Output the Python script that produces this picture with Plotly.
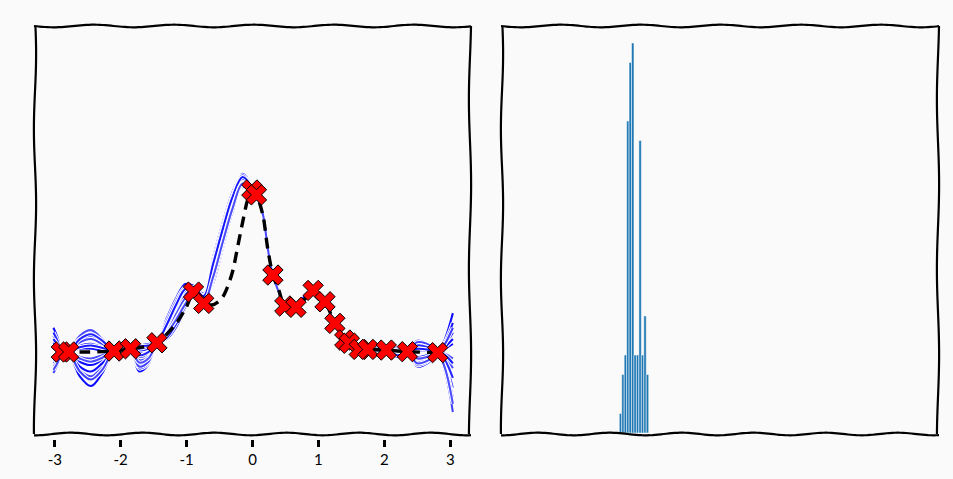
import numpy as np
import plotly.graph_objects as go

# ---------------------------------------------------------------
# Left panel: true objective (dashed), posterior samples (blue),
# observed points (red crosses)
# ---------------------------------------------------------------
S_X = [-3.02, -2.95, -2.90, -2.79, -2.62, -2.45, -2.28, -2.1, -1.97, -1.85,
       -1.72, -1.58, -1.45, -1.3, -1.15, -1.02, -0.895, -0.74, -0.6, -0.45,
       -0.3, -0.15, -0.01, 0.06, 0.16, 0.23, 0.31, 0.4, 0.49, 0.66,
       0.8, 0.92, 1.10, 1.25, 1.40, 1.47, 1.62, 1.75, 1.9, 2.03,
       2.2, 2.35, 2.5, 2.65, 2.81, 2.92, 3.04]

SAMPLE_0 = [0.15, 0.08, 0.0, 0.0, -0.06, -0.08, -0.05, 0.006, 0.0, 0.02,
            -0.03, -0.01, 0.057, 0.12, 0.22, 0.31, 0.37, 0.32, 0.48, 0.70,
            0.91, 1.05, 1.0, 0.97, 0.85, 0.65, 0.475, 0.37, 0.284, 0.276,
            0.33, 0.38, 0.31, 0.177, 0.074, 0.054, 0.016, 0.016, 0.0, 0.012,
            0.01, 0.002, -0.05, -0.04, -0.004, 0.08, 0.24]
SAMPLE_1 = [-0.02, -0.01, 0.0, 0.0, 0.10, 0.135, 0.08, 0.01, 0.03, 0.025,
            0.03, 0.045, 0.065, 0.18, 0.31, 0.40, 0.40, 0.35, 0.55, 0.77,
            0.96, 1.08, 1.02, 0.98, 0.86, 0.66, 0.48, 0.38, 0.29, 0.28,
            0.35, 0.385, 0.315, 0.18, 0.08, 0.056, 0.02, 0.018, 0.02, 0.014,
            -0.02, 0.004, 0.07, 0.05, 0.0, -0.03, -0.10]
SAMPLE_2 = [0.06, 0.03, 0.005, -0.005, -0.15, -0.21, -0.13, 0.0, -0.01, 0.015,
            -0.12, -0.08, 0.05, 0.08, 0.16, 0.27, 0.35, 0.30, 0.42, 0.64,
            0.86, 1.02, 0.99, 0.96, 0.84, 0.64, 0.47, 0.365, 0.28, 0.27,
            0.32, 0.375, 0.305, 0.17, 0.07, 0.05, 0.01, 0.012, -0.03, 0.01,
            0.03, 0.0, -0.09, -0.07, -0.008, 0.04, 0.12]
SAMPLE_3 = [-0.13, -0.07, -0.005, 0.0, 0.04, 0.05, 0.03, 0.006, 0.02, 0.02,
            0.0, 0.02, 0.057, 0.14, 0.25, 0.34, 0.37, 0.33, 0.50, 0.72,
            0.92, 1.06, 1.01, 0.97, 0.85, 0.65, 0.475, 0.37, 0.284, 0.276,
            0.34, 0.38, 0.31, 0.177, 0.074, 0.054, 0.016, 0.016, 0.01, 0.012,
            -0.01, 0.002, 0.03, 0.02, -0.004, -0.12, -0.37]
SAMPLE_4 = [0.10, 0.05, 0.0, 0.005, 0.07, 0.10, 0.06, 0.01, 0.0, 0.025,
            0.04, 0.05, 0.065, 0.21, 0.34, 0.42, 0.41, 0.36, 0.58, 0.80,
            0.99, 1.10, 1.03, 0.99, 0.87, 0.66, 0.485, 0.385, 0.29, 0.28,
            0.36, 0.385, 0.32, 0.185, 0.08, 0.058, 0.02, 0.018, 0.03, 0.014,
            0.02, 0.004, 0.05, 0.04, 0.0, 0.02, 0.05]
SAMPLE_5 = [-0.07, -0.04, 0.0, 0.0, -0.11, -0.15, -0.09, 0.0, -0.02, 0.015,
            -0.08, -0.05, 0.05, 0.10, 0.19, 0.29, 0.35, 0.31, 0.45, 0.67,
            0.88, 1.03, 0.99, 0.96, 0.84, 0.64, 0.47, 0.365, 0.28, 0.27,
            0.32, 0.375, 0.305, 0.17, 0.07, 0.05, 0.01, 0.012, -0.02, 0.01,
            0.0, 0.0, -0.06, -0.05, -0.008, -0.07, -0.22]
SAMPLE_6 = [0.02, 0.01, 0.005, 0.0, 0.02, 0.02, 0.01, 0.006, 0.01, 0.02,
            0.01, 0.02, 0.057, 0.15, 0.27, 0.36, 0.38, 0.33, 0.51, 0.73,
            0.93, 1.06, 1.01, 0.97, 0.855, 0.65, 0.475, 0.375, 0.285, 0.276,
            0.34, 0.38, 0.31, 0.177, 0.074, 0.054, 0.016, 0.016, 0.0, 0.012,
            -0.03, 0.002, 0.01, 0.01, -0.004, 0.06, 0.18]
SAMPLE_7 = [-0.05, -0.03, 0.0, 0.005, 0.06, 0.08, 0.05, 0.01, 0.03, 0.025,
            0.02, 0.035, 0.065, 0.19, 0.32, 0.40, 0.39, 0.35, 0.56, 0.78,
            0.97, 1.09, 1.02, 0.98, 0.86, 0.66, 0.48, 0.38, 0.29, 0.28,
            0.35, 0.385, 0.315, 0.18, 0.08, 0.056, 0.02, 0.018, 0.025, 0.014,
            0.015, 0.004, 0.06, 0.05, 0.0, -0.01, -0.04]
SAMPLE_8 = [0.04, 0.02, -0.005, 0.0, -0.09, -0.12, -0.07, 0.0, -0.01, 0.015,
            -0.10, -0.07, 0.05, 0.09, 0.18, 0.28, 0.36, 0.30, 0.44, 0.66,
            0.87, 1.03, 0.99, 0.96, 0.84, 0.64, 0.47, 0.365, 0.28, 0.27,
            0.33, 0.375, 0.305, 0.17, 0.07, 0.05, 0.01, 0.012, -0.01, 0.01,
            0.025, 0.0, -0.03, -0.02, -0.008, 0.03, 0.08]
SAMPLE_9 = [-0.09, -0.05, 0.0, -0.005, -0.03, -0.04, -0.02, 0.006, 0.005, 0.02,
            -0.05, -0.03, 0.057, 0.13, 0.24, 0.33, 0.37, 0.32, 0.49, 0.71,
            0.91, 1.05, 1.0, 0.97, 0.85, 0.65, 0.475, 0.37, 0.284, 0.276,
            0.33, 0.38, 0.31, 0.177, 0.074, 0.054, 0.016, 0.016, -0.025, 0.012,
            -0.015, 0.002, -0.08, -0.06, -0.004, -0.09, -0.28]
SAMPLE_10 = [0.12, 0.06, 0.0, 0.0, 0.08, 0.11, 0.07, 0.008, 0.02, 0.02,
             -0.02, 0.0, 0.057, 0.16, 0.29, 0.38, 0.39, 0.34, 0.53, 0.75,
             0.95, 1.07, 1.02, 0.975, 0.855, 0.655, 0.478, 0.375, 0.287, 0.278,
             0.345, 0.382, 0.312, 0.178, 0.076, 0.055, 0.018, 0.017, 0.015, 0.013,
             -0.02, 0.003, 0.04, 0.03, -0.002, -0.05, -0.16]
SAMPLE_11 = [-0.04, -0.02, 0.0, -0.003, -0.12, -0.17, -0.11, 0.004, -0.015, 0.018,
             -0.09, -0.06, 0.052, 0.11, 0.21, 0.30, 0.36, 0.31, 0.47, 0.69,
             0.90, 1.04, 1.0, 0.965, 0.845, 0.645, 0.472, 0.368, 0.282, 0.273,
             0.325, 0.378, 0.308, 0.174, 0.072, 0.052, 0.013, 0.014, -0.02, 0.011,
             0.02, 0.001, -0.07, -0.055, -0.006, 0.05, 0.15]
SAMPLE_12 = [0.08, 0.04, 0.003, 0.0, 0.03, 0.04, 0.025, 0.006, -0.005, 0.02,
             0.035, 0.04, 0.06, 0.17, 0.30, 0.39, 0.40, 0.345, 0.54, 0.76,
             0.96, 1.08, 1.02, 0.98, 0.86, 0.66, 0.48, 0.38, 0.29, 0.28,
             0.35, 0.385, 0.315, 0.18, 0.078, 0.056, 0.019, 0.017, 0.01, 0.013,
             0.01, 0.003, 0.02, 0.015, -0.003, -0.02, -0.07]
SAMPLE_13 = [-0.11, -0.06, -0.003, 0.0, -0.04, -0.06, -0.035, 0.005, 0.01, 0.02,
             -0.065, -0.04, 0.055, 0.115, 0.205, 0.295, 0.36, 0.31, 0.46, 0.68,
             0.89, 1.04, 1.0, 0.965, 0.845, 0.645, 0.472, 0.368, 0.282, 0.273,
             0.325, 0.378, 0.308, 0.174, 0.072, 0.052, 0.013, 0.014, -0.015, 0.011,
             0.005, 0.001, -0.04, -0.03, -0.006, -0.10, -0.32]

SAMPLES = [SAMPLE_0, SAMPLE_1, SAMPLE_2, SAMPLE_3, SAMPLE_4, SAMPLE_5, SAMPLE_6,
           SAMPLE_7, SAMPLE_8, SAMPLE_9, SAMPLE_10, SAMPLE_11, SAMPLE_12,
           SAMPLE_13]
SAMPLE_ALPHA = [0.95, 0.7, 0.95, 0.75, 0.95, 0.7, 0.9,
                0.75, 0.95, 0.7, 0.85, 0.75, 0.9, 0.7]

TRUE_X = [-2.9, -2.5, -2.1, -1.85, -1.6, -1.45, -1.3, -1.15, -1.0, -0.895,
          -0.8, -0.74, -0.62, -0.52, -0.45, -0.38, -0.3, -0.22, -0.15, -0.08,
          -0.01, 0.06, 0.16, 0.23, 0.31, 0.4, 0.49, 0.66, 0.8, 0.92,
          1.1, 1.25, 1.4, 1.47, 1.62, 1.75, 2.03, 2.35, 2.81]
TRUE_Y = [0.0, 0.0, 0.006, 0.02, 0.035, 0.057, 0.11, 0.18, 0.28, 0.37,
          0.32, 0.30, 0.29, 0.31, 0.34, 0.40, 0.5, 0.66, 0.8, 0.93,
          1.0, 0.97, 0.84, 0.64, 0.475, 0.38, 0.284, 0.276, 0.33, 0.38,
          0.31, 0.177, 0.074, 0.054, 0.016, 0.016, 0.012, 0.002, -0.004]

OBS_X = [-2.9, -2.79, -2.10, -1.85, -1.45, -0.895, -0.74, -0.01, 0.06, 0.31,
         0.49, 0.66, 0.92, 1.10, 1.25, 1.40, 1.47, 1.62, 1.75, 2.03, 2.35, 2.81]
OBS_Y = [0.0, 0.0, 0.006, 0.02, 0.057, 0.37, 0.30, 1.0, 0.97, 0.475,
         0.284, 0.276, 0.38, 0.31, 0.177, 0.074, 0.054, 0.016, 0.016, 0.012,
         0.002, -0.004]

TICK_VALS = [-3, -2, -1, 0, 1, 2, 3]
TICK_TEXT = ["-3", "-2", "-1", "0", "1", "2", "3"]

# ---------------------------------------------------------------
# Right panel: histogram counts of sampled maximiser locations
# ---------------------------------------------------------------
HIST_X = [-1.506, -1.469, -1.432, -1.395, -1.358, -1.321, -1.284, -1.247,
          -1.209, -1.172, -1.135, -1.098]
HIST_COUNT = [1, 3, 4, 16, 19, 20, 4, 4, 15, 4, 6, 3]
HIST_BIN_W = 0.037

for s in SAMPLES:
    assert len(s) == len(S_X)
assert len(TRUE_X) == len(TRUE_Y) and len(OBS_X) == len(OBS_Y)

W, H = 953, 479
BG = "#fafafa"

fig = go.Figure()

# posterior samples, each with a white halo under it (hand-drawn look)
for s, a in zip(SAMPLES, SAMPLE_ALPHA):
    fig.add_trace(go.Scatter(
        x=S_X, y=s, mode="lines", xaxis="x", yaxis="y",
        line=dict(color="white", width=4.2, shape="spline", smoothing=1.0),
        hoverinfo="skip", showlegend=False))
    fig.add_trace(go.Scatter(
        x=S_X, y=s, mode="lines", xaxis="x", yaxis="y",
        line=dict(color=f"rgba(0,0,255,{a})", width=2.1, shape="spline",
                  smoothing=1.0),
        hoverinfo="skip", showlegend=False))

# true function
fig.add_trace(go.Scatter(
    x=TRUE_X, y=TRUE_Y, mode="lines", xaxis="x", yaxis="y",
    line=dict(color="black", width=3.4, dash="11px,7px", shape="spline",
              smoothing=0.8),
    hoverinfo="skip", showlegend=False))

# observations
fig.add_trace(go.Scatter(
    x=OBS_X, y=OBS_Y, mode="markers", xaxis="x", yaxis="y",
    marker=dict(symbol="x", size=18, color="red",
                line=dict(color="black", width=1)),
    hoverinfo="skip", showlegend=False))

# histogram bars
fig.add_trace(go.Bar(
    x=HIST_X, y=HIST_COUNT, width=HIST_BIN_W, xaxis="x2", yaxis="y2",
    marker=dict(color="#1f77b4", line=dict(color="white", width=0.5)),
    hoverinfo="skip", showlegend=False))


# wobbly hand-drawn frame around each panel
def px(x):
    return x / W


def py(y):
    return 1 - y / H


def wavy_h(x0, x1, y, amp, period, phase):
    xs = np.linspace(x0, x1, 160)
    ys = y + amp * np.sin(2 * np.pi * (xs - x0) / period + phase)
    return "M " + " L ".join(f"{px(a):.5f},{py(b):.5f}" for a, b in zip(xs, ys))


def wavy_v(x, y0, y1, amp, period, phase):
    ys = np.linspace(y0, y1, 160)
    xs = x + amp * np.sin(2 * np.pi * (ys - y0) / period + phase)
    return "M " + " L ".join(f"{px(a):.5f},{py(b):.5f}" for a, b in zip(xs, ys))


shapes = []
for (x0, x1) in [(35, 470), (502, 938)]:
    top, bot = 26, 434
    for path in [wavy_h(x0 - 1, x1 + 1, top, 1.3, 80, 0.0),
                 wavy_h(x0 - 1, x1 + 1, bot, 1.3, 72, 1.5),
                 wavy_v(x0, top, bot, 1.1, 150, 0.4),
                 wavy_v(x1, top, bot, 1.1, 170, 2.0)]:
        shapes.append(dict(type="path", path=path, xref="paper", yref="paper",
                           line=dict(color="black", width=2.2), layer="above"))

Y_DOM = [1 - 434 / H, 1 - 26 / H]

fig.update_layout(
    width=W, height=H,
    margin=dict(l=0, r=0, t=0, b=0),
    paper_bgcolor=BG, plot_bgcolor=BG,
    barmode="overlay",
    shapes=shapes,
    xaxis=dict(domain=[35 / W, 470 / W], range=[-3.3, 3.3],
               anchor="free", position=1 - 439 / H,
               showline=False, showgrid=False, zeroline=False,
               ticks="outside", ticklen=7, tickwidth=3, tickcolor="black",
               tickvals=TICK_VALS, ticktext=TICK_TEXT,
               tickfont=dict(family="Lato", size=15, color="black")),
    yaxis=dict(domain=Y_DOM, range=[-0.506, 2.012], anchor="x",
               showline=False, showgrid=False, zeroline=False,
               showticklabels=False, ticks=""),
    xaxis2=dict(domain=[502 / W, 938 / W], range=[-3.3, 3.3], anchor="y2",
                showline=False, showgrid=False, zeroline=False,
                showticklabels=False, ticks=""),
    yaxis2=dict(domain=Y_DOM, range=[-0.051, 20.87], anchor="x2",
                showline=False, showgrid=False, zeroline=False,
                showticklabels=False, ticks=""),
)

fig.write_html("out.html")
